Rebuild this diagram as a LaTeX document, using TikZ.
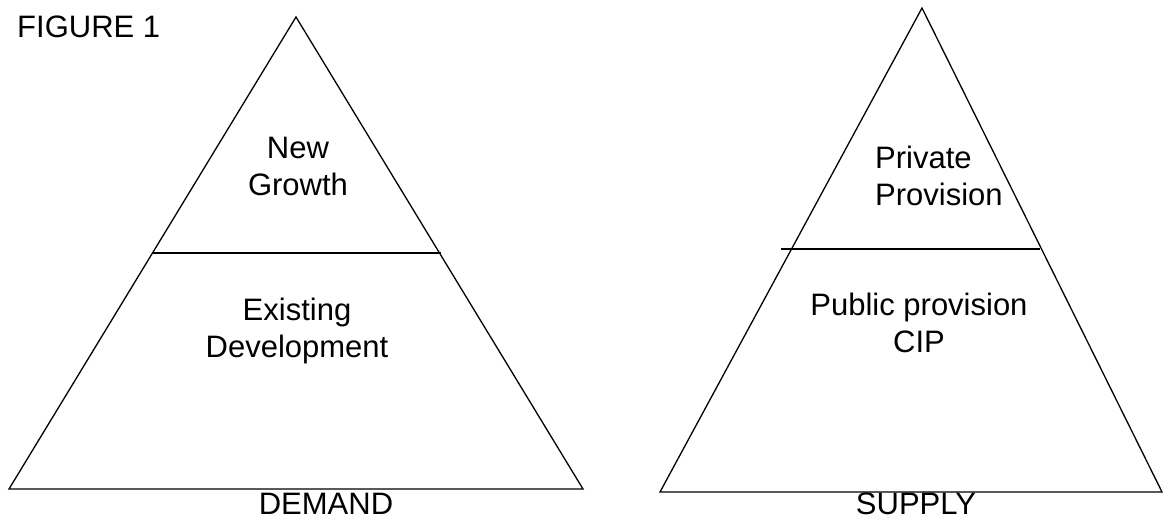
\documentclass[tikz,border=0pt]{standalone}
\usepackage{fontspec}
\setmainfont{Liberation Sans}
\usetikzlibrary{positioning}

\begin{document}
\begin{tikzpicture}[
    x=1pt, y=-1pt,
    every node/.style={font=\fontsize{31}{37}\selectfont},
    label/.style={align=center, inner sep=0pt, anchor=base},
    edge/.style={line width=1.3pt}
]
\useasboundingbox (0,0) rectangle (1168,519);

% Demand triangle
\coordinate (dtop) at (296,17);
\coordinate (dleft) at (9,489);
\coordinate (dright) at (583,489);
\draw[edge] (dtop) -- (dleft) -- (dright) -- cycle;
\coordinate (dcutl) at (152,253);
\coordinate (dcutr) at (441,253);
\draw[edge] (dcutl) -- (dcutr);

% Supply triangle
\coordinate (stop) at (922,8);
\coordinate (sleft) at (660,492);
\coordinate (sright) at (1162,492);
\draw[edge] (stop) -- (sleft) -- (sright) -- cycle;
\coordinate (scutl) at (781,249);
\coordinate (scutr) at (1040,249);
\draw[edge] (scutl) -- (scutr);

% Labels
\node[label, anchor=base west] (fig) at (17,38) {FIGURE 1};
\node[label] (growth) at (298,195) {New\\Growth};
\node[label] (existing) at (297,357) {Existing\\Development};
\node[label] (demand) at (326,514) {DEMAND};
\node[label, align=left, anchor=base west] (private) at (875,205) {Private\\Provision};
\node[label] (public) at (919,352) {Public provision\\CIP};
\node[label] (supply) at (916,514) {SUPPLY};
\end{tikzpicture}
\end{document}
